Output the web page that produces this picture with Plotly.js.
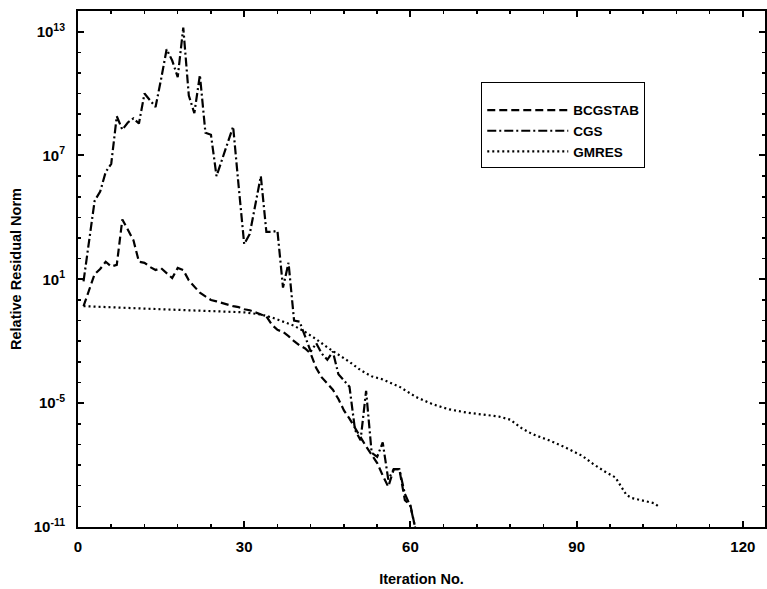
<!DOCTYPE html>
<html>
<head>
<meta charset="utf-8">
<script src="https://cdn.plot.ly/plotly-3.0.1.min.js"></script>
<style>html,body{margin:0;padding:0;background:#fff;}#chart{width:767px;height:589px;}</style>
</head>
<body>
<div id="chart"></div>
<script>
// Iteration numbers and log10(relative residual norm)
var bcgIter = [1,2,3,4,5,6,7,8,9,10,11,12,13,14,15,16,17,18,19,20,21,22,23,24,25,26,27,28,29,30,31,32,33,34,35,36,37,38,39,40,41,42,43,44,45,46,47,48,49,50,51,52,53,54,55,56,57,58,59,60,61];
var bcgLog  = [-0.3,0.5,1.25,1.5,1.85,1.62,1.7,3.9,3.4,2.9,1.85,1.8,1.6,1.45,1.54,1.3,1.06,1.55,1.45,0.95,0.65,0.35,0.17,0.0,-0.07,-0.15,-0.23,-0.3,-0.35,-0.45,-0.5,-0.6,-0.7,-0.8,-1.2,-1.45,-1.55,-1.75,-2.0,-2.2,-2.35,-2.6,-3.3,-3.75,-4.05,-4.35,-4.8,-5.35,-5.75,-6.2,-6.7,-7.1,-7.5,-7.9,-8.5,-9.05,-8.2,-8.2,-9.7,-9.95,-11.2];

var cgsIter = [1,2,3,4,5,6,7,8,9,10,11,12,13,14,15,16,17,18,19,20,21,22,23,24,25,26,27,28,29,30,31,32,33,34,35,36,37,38,39,40,41,42,43,44,45,46,47,48,49,50,51,52,53,54,55,56,57,58,59,60,61];
var cgsLog  = [0.9,2.8,4.8,5.25,6.2,6.6,8.9,8.25,8.6,8.8,8.55,10.0,9.7,9.35,10.7,12.15,11.6,10.8,13.2,9.9,9.05,10.9,8.1,8.0,6.0,6.8,7.6,8.4,5.5,2.7,3.2,4.6,6.0,3.3,3.3,3.35,0.6,1.8,-1.0,-1.05,-1.8,-2.5,-2.1,-2.6,-2.9,-2.5,-3.6,-3.9,-4.2,-6.3,-6.8,-4.4,-7.4,-7.6,-6.9,-8.7,-8.2,-8.2,-9.4,-10.0,-11.2];

var gmresIter = [1,5,10,15,20,25,30,33,35,37,39,41,43,45,47,49,51,53,55,58,61,64,67,70,73,76,78,80,82,85,88,91,93,95,97,98,99,100,102,104,105];
var gmresLog  = [-0.3,-0.35,-0.4,-0.45,-0.5,-0.55,-0.6,-0.7,-0.85,-1.05,-1.25,-1.55,-1.9,-2.3,-2.65,-3.0,-3.4,-3.7,-3.85,-4.2,-4.7,-5.05,-5.3,-5.45,-5.55,-5.65,-5.8,-6.2,-6.5,-6.8,-7.15,-7.55,-7.95,-8.3,-8.6,-9.0,-9.45,-9.6,-9.72,-9.85,-10.05];

var seriesNames = ['BCGSTAB','CGS','GMRES'];
var xTickVals = [0,30,60,90,120];
var yTickExps = [-11,-5,1,7,13];
var yTickText = ['10<sup>-11</sup>','10<sup>-5</sup>','10<sup>1</sup>','10<sup>7</sup>','10<sup>13</sup>'];

function pow10(a){ return a.map(function(v){ return Math.pow(10, v); }); }

var font = "'Liberation Sans', Arial, sans-serif";
var traces = [
  {x: bcgIter, y: pow10(bcgLog), name: seriesNames[0], mode: 'lines',
   line: {color: '#000', width: 2.2, dash: '8px,4px'}},
  {x: cgsIter, y: pow10(cgsLog), name: seriesNames[1], mode: 'lines',
   line: {color: '#000', width: 2.2, dash: '9px,3px,2px,3px'}},
  {x: gmresIter, y: pow10(gmresLog), name: seriesNames[2], mode: 'lines',
   line: {color: '#000', width: 2.2, dash: '2px,3px'}}
];

var layout = {
  width: 767, height: 589,
  margin: {l: 78, r: 2, t: 11, b: 62},
  paper_bgcolor: '#fff', plot_bgcolor: '#fff',
  font: {family: font, color: '#000', size: 15, weight: 'bold'},
  showlegend: true,
  legend: {
    x: 0.587, y: 0.862, xanchor: 'left', yanchor: 'top',
    bordercolor: '#000', borderwidth: 1, bgcolor: '#fff',
    font: {family: font, size: 13.5, color: '#000', weight: 'bold'},
    title: {text: ' ', font: {size: 9}},
    itemwidth: 81,
    entrywidth: 200
  },
  xaxis: {
    range: [0, 124], showgrid: false, zeroline: false,
    showline: true, linecolor: '#000', linewidth: 2, mirror: 'ticks',
    ticks: 'inside', ticklen: 6, tickwidth: 2, tickcolor: '#000',
    tickmode: 'array', tickvals: xTickVals, ticklabelstandoff: 5,
    tickfont: {family: font, size: 15, color: '#000', weight: 'bold'},
    minor: {dtick: 6, tick0: 0, ticks: 'inside', ticklen: 3, tickwidth: 1.5, tickcolor: '#000', showgrid: false},
    title: {text: 'Iteration No.', font: {family: font, size: 14.5, color: '#000', weight: 'bold'}, standoff: 20}
  },
  yaxis: {
    type: 'log', range: [-11, 14], showgrid: false, zeroline: false,
    showline: true, linecolor: '#000', linewidth: 2, mirror: 'ticks',
    ticks: 'inside', ticklen: 6, tickwidth: 2, tickcolor: '#000',
    tickmode: 'array', tickvals: pow10(yTickExps), ticktext: yTickText, ticklabelstandoff: 8,
    tickfont: {family: font, size: 15, color: '#000', weight: 'bold'},
    minor: {dtick: 1, ticks: 'inside', ticklen: 3, tickwidth: 1.5, tickcolor: '#000', showgrid: false},
    title: {text: 'Relative Residual Norm', font: {family: font, size: 14.5, color: '#000', weight: 'bold'}, standoff: 9}
  }
};

Plotly.newPlot('chart', traces, layout, {displayModeBar: false, staticPlot: true});
</script>
</body>
</html>
